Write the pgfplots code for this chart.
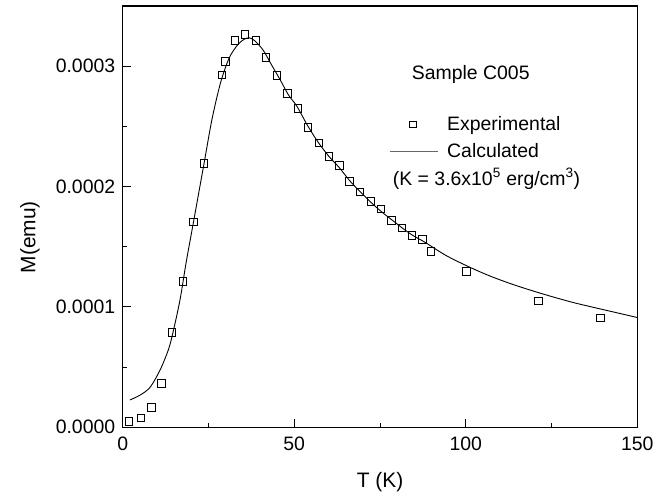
\documentclass[border=0pt]{standalone}
\usepackage{pgfplots}
\pgfplotsset{compat=1.18}
\usepackage{fontspec}
\setmainfont{Liberation Sans}

\pgfplotsset{
  explegend/.style={legend image code/.code={\path[draw=none,fill=none] (0bp,-3bp) rectangle (47.6bp,3bp); \draw[##1, mark size=3.2bp, mark repeat=2, mark phase=2] plot coordinates {(0bp,0bp) (22.5bp,0bp) (47.6bp,0bp)};}},
  calclegend/.style={legend image code/.code={\path[draw=none,fill=none] (0bp,-3bp) rectangle (47.6bp,3bp); \draw[##1, line width=0.6bp, black!60] (0bp,0bp) -- (47.6bp,0bp);}},
}

\pgfplotstableread{
T M
1.9 0.0000050
5.3 0.0000077
8.4 0.0000166
11.3 0.0000365
14.4 0.0000787
17.5 0.0001213
20.6 0.0001704
23.7 0.0002193
28.9 0.0002925
30.0 0.0003038
32.7 0.0003214
35.7 0.0003262
38.8 0.0003215
41.8 0.0003072
44.9 0.0002923
48.0 0.0002773
51.0 0.0002649
54.0 0.0002492
57.2 0.0002362
60.1 0.0002251
63.2 0.0002174
66.1 0.0002044
69.2 0.0001953
72.3 0.0001876
75.2 0.0001815
78.3 0.0001718
81.4 0.0001655
84.3 0.0001594
87.4 0.0001561
89.9 0.0001461
100.2 0.0001296
121.2 0.0001050
139.2 0.0000906
}\expdata

\pgfplotstableread{
T M
2.1 0.0000227
5.1 0.0000268
8.0 0.0000333
10.9 0.0000476
13.3 0.0000643
14.6 0.0000781
16.7 0.0001058
18.5 0.0001370
20.6 0.0001700
23.7 0.0002190
26.0 0.0002555
28.5 0.0002860
31.0 0.0003066
33.5 0.0003177
35.5 0.0003225
37.0 0.0003235
38.4 0.0003213
40.9 0.0003135
43.4 0.0003010
45.9 0.0002887
48.3 0.0002762
50.8 0.0002666
53.9 0.0002506
57.0 0.0002367
60.1 0.0002251
63.2 0.0002155
66.3 0.0002044
69.4 0.0001953
72.5 0.0001865
75.6 0.0001787
78.7 0.0001718
81.8 0.0001649
84.9 0.0001588
88.0 0.0001539
94.2 0.0001428
100.4 0.0001340
106.6 0.0001262
112.8 0.0001196
119.0 0.0001138
125.2 0.0001085
131.4 0.0001036
137.6 0.0000994
143.8 0.0000953
150.0 0.0000912
}\calcdata

\begin{document}
\begin{tikzpicture}
\begin{axis}[
  name=main,
  scale only axis,
  width=514.6bp, height=421.3bp,
  xmin=0, xmax=150, ymin=0, ymax=0.00035,
  xtick={0,50,100,150},
  minor xtick={25,75,125},
  ytick={0,0.0001,0.0002,0.0003},
  minor ytick={0.00005,0.00015,0.00025},
  yticklabels={0.0000,0.0001,0.0002,0.0003},
  scaled y ticks=false,
  xtick pos=left, ytick pos=left,
  tick align=inside,
  major tick length=8bp, minor tick length=4bp,
  axis line style={line width=1.3bp},
  every tick/.style={black, line width=1bp},
  tick label style={font=\fontsize{19.5}{21}\selectfont},
  xticklabel style={yshift=-6.5bp},
  yticklabel style={xshift=-4bp},
  /pgf/number format/assume math mode=true,
  xlabel={T (K)}, ylabel={M(emu)},
  every axis x label/.style={at={(axis description cs:0.5,-0.1425)}, anchor=base, font=\fontsize{21}{23}\selectfont},
  every axis y label/.style={at={(axis description cs:-0.18,0.451)}, anchor=center, rotate=90, font=\fontsize{21}{23}\selectfont},
  legend cell align=left,
  legend style={draw=none, fill=none, inner sep=0pt, outer sep=0pt,
    at={(axis description cs:0.5194,0.7375)}, anchor=north west,
    column sep=9bp, row sep=11bp,
    nodes={inner sep=0pt, text depth=0.15em},
    font=\fontsize{19.5}{22}\selectfont},
]
\addplot[only marks, mark=square, mark size=3.7bp, mark options={line width=0.9bp, black}, black, explegend]
  table[x=T, y=M] {\expdata};
\addlegendentry{Experimental}
\addplot[black, line width=0.9bp, smooth, no marks, calclegend]
  table[x=T, y=M] {\calcdata};
\addlegendentry{Calculated}
\node[anchor=base west, inner sep=0pt, font=\fontsize{19.5}{22}\selectfont] at (axis description cs:0.5616,0.8255) {Sample C005};
\node[anchor=base west, inner sep=0pt, font=\fontsize{19.5}{22}\selectfont] at (axis description cs:0.5247,0.5751) {(K = 3.6x10\textsuperscript{5} erg/cm\textsuperscript{3})};
\end{axis}
\pgfresetboundingbox
\path ([shift={(-122.7bp,-67.7bp)}]main.south west) rectangle ([shift={(28.7bp,6bp)}]main.north east);
\end{tikzpicture}
\end{document}
